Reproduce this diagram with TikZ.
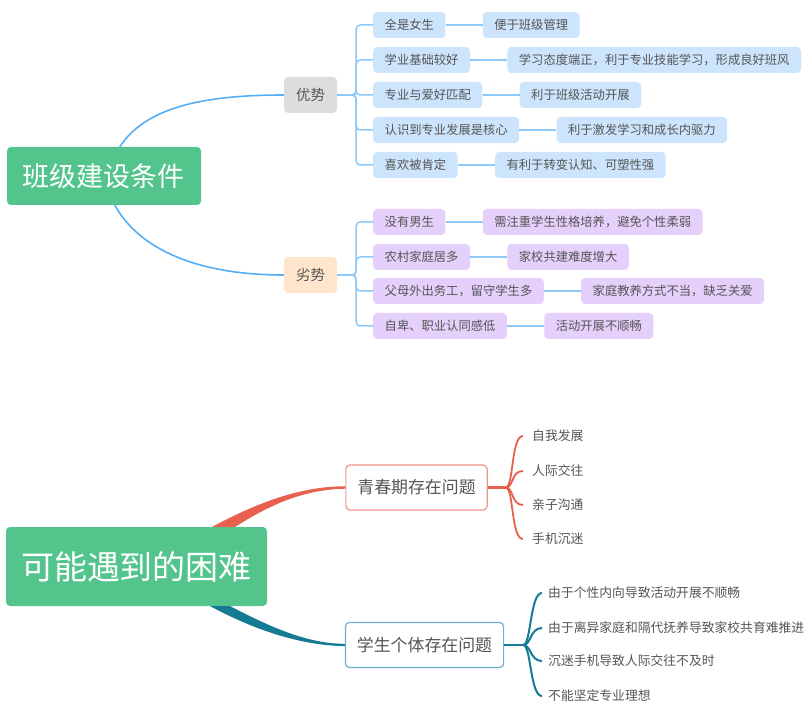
\documentclass[tikz,border=0pt]{standalone}
\usepackage{fontspec}
\setmainfont{Noto Sans CJK SC}
\usetikzlibrary{positioning}

\definecolor{rootgreen}{HTML}{52C48C}
\definecolor{linkblue}{HTML}{55AEF6}
\definecolor{stubblue}{HTML}{8CC8F8}
\definecolor{boxblue}{HTML}{CCE4FC}
\definecolor{boxpurple}{HTML}{E5CFFB}
\definecolor{boxgray}{HTML}{DDDDDD}
\definecolor{boxpeach}{HTML}{FFE5CC}
\definecolor{txtgray}{HTML}{555555}
\definecolor{linkred}{HTML}{E8604E}
\definecolor{edgered}{HTML}{F2948B}
\definecolor{linkteal}{HTML}{157A93}
\definecolor{edgeteal}{HTML}{6CB0C9}

\tikzset{
  root/.style={fill=rootgreen, text=white, rounded corners=4pt, inner sep=0pt},
  topic/.style={rounded corners=4pt, minimum width=53pt, minimum height=36pt,
    inner sep=0pt, text=txtgray, font=\fontsize{14.5}{17}\selectfont},
  good/.style={fill=boxblue, rounded corners=4pt, minimum height=26pt,
    inner xsep=11.5pt, inner ysep=0pt, text=txtgray,
    font=\fontsize{12.3}{15}\selectfont, anchor=west},
  bad/.style={good, fill=boxpurple},
  issue/.style={draw, fill=white, rounded corners=4pt, line width=1.2pt,
    minimum height=45pt, inner xsep=11.5pt, inner ysep=0pt, text=txtgray,
    font=\fontsize{16.9}{19}\selectfont},
  leaf/.style={inner sep=0pt, anchor=west, text=txtgray,
    font=\fontsize{12.8}{15}\selectfont},
  mainlink/.style={draw=linkblue, line width=1.6pt},
  stub/.style={draw=stubblue, line width=1.5pt},
}

\begin{document}
\begin{tikzpicture}[x=1pt,y=-1pt]
    \useasboundingbox (0,0) rectangle (812,711);

    % upper map
    \node[root, minimum width=194pt, minimum height=58pt,
      font=\fontsize{27}{30}\selectfont] (jianshe) at (104,176) {班级建设条件};
    \node[topic, fill=boxgray]  (youshi) at (310.5,95)  {优势};
    \node[topic, fill=boxpeach] (lieshi) at (310.5,275) {劣势};

    \node[good] (g1) at (373,25)  {全是女生};
    \node[good] (g2) at (373,60)  {学业基础较好};
    \node[good] (g3) at (373,95)  {专业与爱好匹配};
    \node[good] (g4) at (373,130) {认识到专业发展是核心};
    \node[good] (g5) at (373,165) {喜欢被肯定};
    \node[good, right=37pt of g1] (gr1) {便于班级管理};
    \node[good, right=37pt of g2] (gr2) {学习态度端正，利于专业技能学习，形成良好班风};
    \node[good, right=37pt of g3] (gr3) {利于班级活动开展};
    \node[good, right=37pt of g4] (gr4) {利于激发学习和成长内驱力};
    \node[good, right=37pt of g5] (gr5) {有利于转变认知、可塑性强};

    \node[bad] (b1) at (373,222) {没有男生};
    \node[bad] (b2) at (373,257) {农村家庭居多};
    \node[bad] (b3) at (373,291) {父母外出务工，留守学生多};
    \node[bad] (b4) at (373,326) {自卑、职业认同感低};
    \node[bad, right=37pt of b1] (br1) {需注重学生性格培养，避免个性柔弱};
    \node[bad, right=37pt of b2] (br2) {家校共建难度增大};
    \node[bad, right=37pt of b3] (br3) {家庭教养方式不当，缺乏关爱};
    \node[bad, right=37pt of b4] (br4) {活动开展不顺畅};

    \draw[mainlink] ([xshift=113pt]jianshe.north west)
      .. controls +(25,-38) and +(-85,0) .. (youshi.west);
    \draw[mainlink] ([xshift=108pt]jianshe.south west)
      .. controls +(25,45) and +(-85,0) .. (lieshi.west);

    \coordinate (ys) at ([xshift=19pt]youshi.east);
    \coordinate (ls) at ([xshift=19pt]lieshi.east);
    \foreach \c in {g1,g2,g3,g4,g5}
      \draw[stub, rounded corners=4pt] (youshi.east) -- (ys) |- (\c.west);
    \foreach \c in {b1,b2,b3,b4}
      \draw[stub, rounded corners=4pt] (lieshi.east) -- (ls) |- (\c.west);
    \foreach \c/\r in {g1/gr1,g2/gr2,g3/gr3,g4/gr4,g5/gr5,b1/br1,b2/br2,b3/br3,b4/br4}
      \draw[stub] (\c.east) -- (\r.west);

    % lower map
    \node[root, minimum width=261pt, minimum height=79pt,
      font=\fontsize{33}{36}\selectfont] (kunnan) at (136.5,566.5) {可能遇到的困难};
    \node[issue, draw=edgered]  (qingchun) at (416.5,487.5) {青春期存在问题};
    \node[issue, draw=edgeteal] (geti)     at (424.5,645)   {学生个体存在问题};

    \node[leaf] (qa) at (532,436) {自我发展};
    \node[leaf] (qb) at (532,471) {人际交往};
    \node[leaf] (qc) at (532,505) {亲子沟通};
    \node[leaf] (qd) at (532,539) {手机沉迷};

    \node[leaf] (xa) at (548,593) {由于个性内向导致活动开展不顺畅};
    \node[leaf] (xb) at (548,628) {由于离异家庭和隔代抚养导致家校共育难推进};
    \node[leaf] (xc) at (548,661) {沉迷手机导致人际交往不及时};
    \node[leaf] (xd) at (548,696) {不能坚定专业理想};

    \fill[linkred] ([xshift=-55pt]kunnan.north east)
      .. controls +(45,-24) and +(-45,0) .. ([yshift=1.2pt]qingchun.west)
      -- ([yshift=-1.2pt]qingchun.west)
      .. controls +(-45,1) and +(32,-20) .. ([xshift=-32pt]kunnan.north east) -- cycle;
    \fill[linkteal] ([xshift=-37pt]kunnan.south east)
      .. controls +(35,18) and +(-40,0) .. ([yshift=1.2pt]geti.west)
      -- ([yshift=-1.2pt]geti.west)
      .. controls +(-45,-1) and +(45,24) .. ([xshift=-57pt]kunnan.south east) -- cycle;

    \coordinate (qj) at ([xshift=18pt]qingchun.east);
    \draw[linkred, line width=2.2pt] (qingchun.east) -- (qj);
    \foreach \l in {qa,qb,qc,qd}
      \draw[linkred, line width=1.8pt] (qj) .. controls +(8,0) and +(-12,0) .. ([xshift=-9pt]\l.west);

    \coordinate (xj) at ([xshift=19pt]geti.east);
    \draw[linkteal, line width=2.6pt] (geti.east) -- (xj);
    \foreach \l in {xa,xb,xc,xd}
      \draw[linkteal, line width=2pt] (xj) .. controls +(8,0) and +(-12,0) .. ([xshift=-6pt]\l.west);

\end{tikzpicture}
\end{document}
